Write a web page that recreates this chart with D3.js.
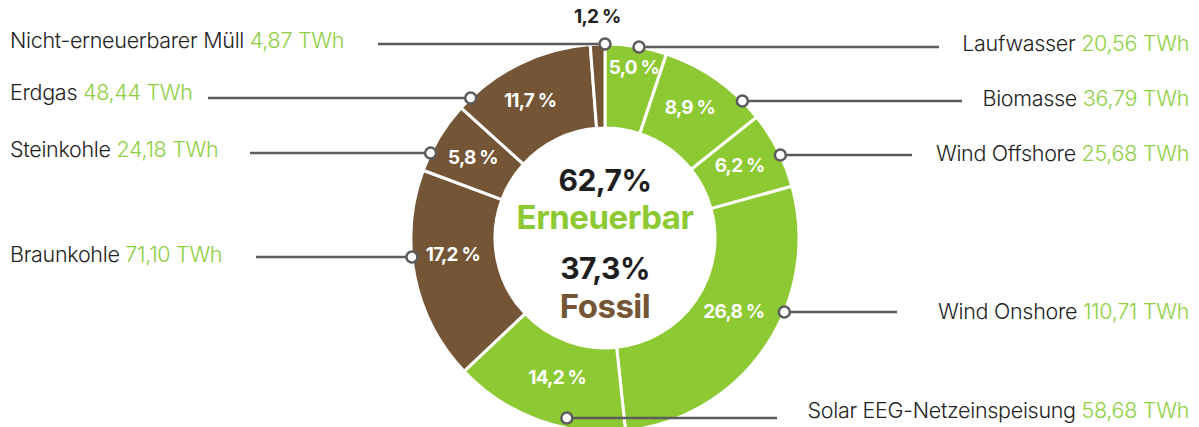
<!DOCTYPE html>
<html>
<head>
<meta charset="utf-8">
<script src="https://cdn.jsdelivr.net/npm/d3@7"></script>
<style>
  body { margin: 0; background: #fff; }
  svg { display: block; font-family: Inter, "Liberation Sans", sans-serif; }
  .name { fill: #222; font-weight: 300; font-size: 21.5px; letter-spacing: -0.3px; }
  .val { fill: #8dcf42; }
  .pct { fill: #fff; font-weight: 700; font-size: 19px; letter-spacing: -0.8px; }
  .big { font-weight: 700; font-size: 30px; letter-spacing: -0.5px; }
</style>
</head>
<body>
<div id="chart"></div>
<script>
// data
var sources = ["Laufwasser", "Biomasse", "Wind Offshore", "Wind Onshore", "Solar EEG-Netzeinspeisung",
               "Braunkohle", "Steinkohle", "Erdgas", "Nicht-erneuerbarer Müll"];
var twh = [20.56, 36.79, 25.68, 110.71, 58.68, 71.10, 24.18, 48.44, 4.87];
var shares = [5.0, 8.9, 6.2, 26.8, 14.2, 17.2, 5.8, 11.7, 1.2];
var kinds = ["erneuerbar", "erneuerbar", "erneuerbar", "erneuerbar", "erneuerbar",
             "fossil", "fossil", "fossil", "fossil"];
var groupNames = ["Erneuerbar", "Fossil"];
var groupShares = [62.7, 37.3];

// layout (pixels / degrees)
var leaderY = [47, 101, 155, 312, 418, 257, 153, 98, 44];
var leaderEnd = [939, 962, 912, 897, 777, 256, 250, 208, 378];
var labelBaseline = [51, 106, 161, 319, 418, 262, 157, 100, 48];
var markerInset = [0, 0, 0, 0, 10, 0, 0, 0, 0];
var pctPos = [[9.6, 173], [33, 156], [61.6, 153], [119.5, 148], [199, 147],
              [264, 153], [301.5, 155], [331.5, 157], [-2, 222]];

var width = 1199, height = 427;
var cx = 605, cy = 238, R = 194, r = 110;

var de = d3.formatLocale({ decimal: ",", thousands: ".", grouping: [3], currency: ["", " €"] });
var f2 = de.format(".2f"), f1 = de.format(".1f");

var color = d3.scaleOrdinal().domain(["erneuerbar", "fossil"]).range(["#8cc933", "#745536"]);

var svg = d3.select("#chart").append("svg")
    .attr("width", width)
    .attr("height", height);

var rows = sources.map(function (s, i) {
    return { name: s, value: twh[i], share: shares[i], kind: kinds[i], i: i };
});

var pie = d3.pie().sort(null).value(function (d) { return d.value; });
var arc = d3.arc().innerRadius(r).outerRadius(R);
var arcs = pie(rows);

var g = svg.append("g").attr("transform", "translate(" + cx + "," + cy + ")");

g.selectAll("path.slice")
    .data(arcs)
    .enter().append("path")
    .attr("class", "slice")
    .attr("d", arc)
    .attr("fill", function (d) { return color(d.data.kind); })
    .attr("stroke", "#fff")
    .attr("stroke-width", 3);

// percent labels
g.selectAll("text.pct")
    .data(arcs)
    .enter().append("text")
    .attr("class", "pct")
    .attr("text-anchor", "middle")
    .attr("dy", "0.35em")
    .attr("x", function (d) { var p = pctPos[d.data.i]; return p[1] * Math.sin(p[0] * Math.PI / 180); })
    .attr("y", function (d) { var p = pctPos[d.data.i]; return -p[1] * Math.cos(p[0] * Math.PI / 180); })
    .style("fill", function (d) { return d.data.i === 8 ? "#222" : null; })
    .text(function (d) { return f1(d.data.share) + " %"; });

// leader lines + markers
function markerX(d) {
    var i = d.data.i;
    var rm = R - markerInset[i];
    var dy = leaderY[i] - cy;
    var mid = (d.startAngle + d.endAngle) / 2;
    var s = Math.sin(mid) >= 0 ? 1 : -1;
    return cx + s * Math.sqrt(Math.max(0, rm * rm - dy * dy));
}

svg.selectAll("line.leader")
    .data(arcs)
    .enter().append("line")
    .attr("class", "leader")
    .attr("x1", markerX)
    .attr("x2", function (d) { return leaderEnd[d.data.i]; })
    .attr("y1", function (d) { return leaderY[d.data.i]; })
    .attr("y2", function (d) { return leaderY[d.data.i]; })
    .attr("stroke", "#5c5c5c")
    .attr("stroke-width", 2.5);

svg.selectAll("circle.marker")
    .data(arcs)
    .enter().append("circle")
    .attr("class", "marker")
    .attr("cx", markerX)
    .attr("cy", function (d) { return leaderY[d.data.i]; })
    .attr("r", 5.5)
    .attr("fill", "#fff")
    .attr("stroke", "#5c5c5c")
    .attr("stroke-width", 2.5);

// source labels
var lab = svg.selectAll("text.name")
    .data(rows)
    .enter().append("text")
    .attr("class", "name")
    .attr("x", function (d) { return d.kind === "erneuerbar" ? 1189 : 10; })
    .attr("y", function (d) { return labelBaseline[d.i]; })
    .attr("text-anchor", function (d) { return d.kind === "erneuerbar" ? "end" : "start"; });
lab.append("tspan").text(function (d) { return d.name + " "; });
lab.append("tspan").attr("class", "val").text(function (d) { return f2(d.value) + " TWh"; });

// centre
var center = svg.append("g").attr("transform", "translate(" + cx + ",0)").attr("text-anchor", "middle");
center.append("text").attr("class", "big").attr("y", 191).attr("fill", "#1e1e1e")
    .text(f1(groupShares[0]) + "%");
center.append("text").attr("class", "big").attr("y", 229).style("font-size", "33px").attr("fill", color("erneuerbar"))
    .text(groupNames[0]);
center.append("text").attr("class", "big").attr("y", 279).attr("fill", "#1e1e1e")
    .text(f1(groupShares[1]) + "%");
center.append("text").attr("class", "big").attr("y", 318).style("font-size", "33px").attr("fill", color("fossil"))
    .text(groupNames[1]);
</script>
</body>
</html>
